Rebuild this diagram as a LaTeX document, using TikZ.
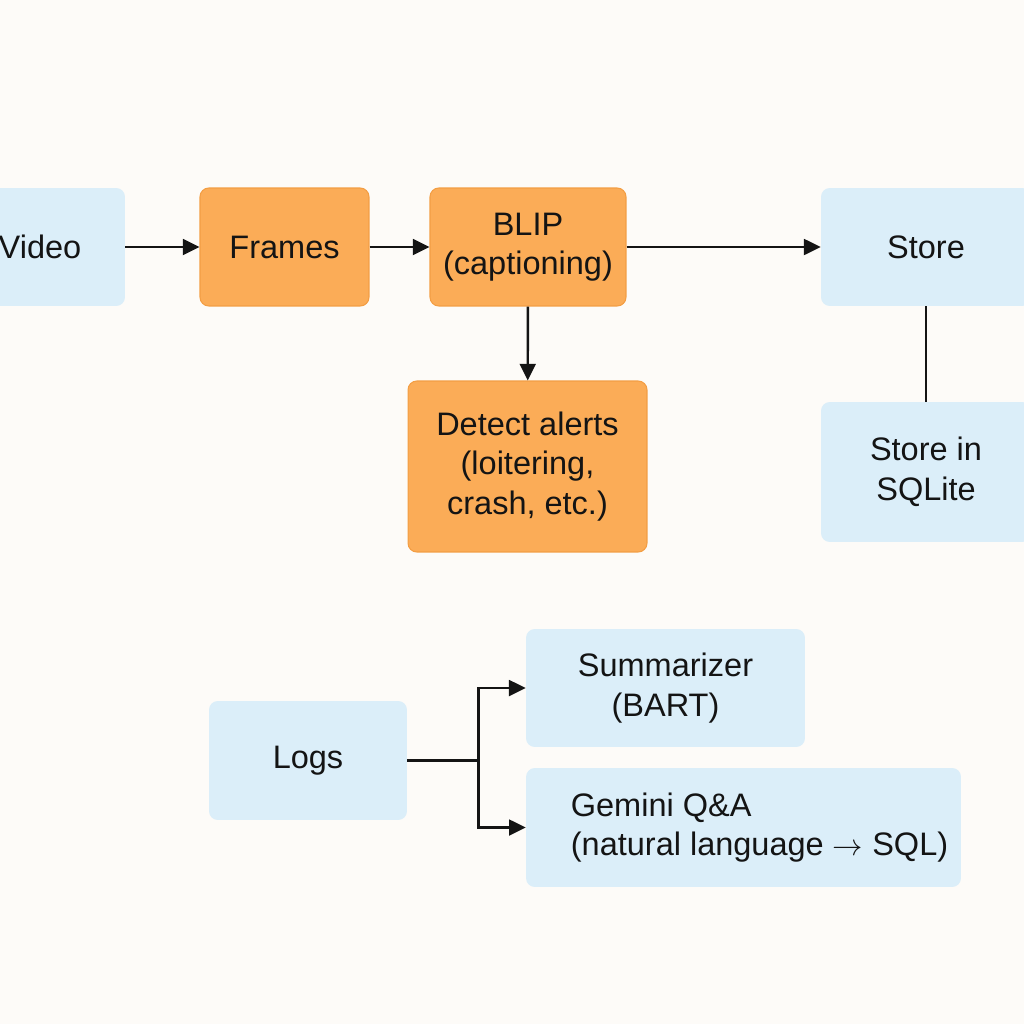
\documentclass[tikz,border=0pt]{standalone}
\usepackage{fontspec}
\setmainfont{Liberation Sans}
\usetikzlibrary{arrows.meta}
\definecolor{vsbg}{RGB}{253,251,248}
\definecolor{vsblue}{RGB}{219,238,249}
\definecolor{vsorange}{RGB}{251,172,87}
\definecolor{vsorline}{RGB}{243,158,68}
\definecolor{vsink}{RGB}{20,20,20}

\begin{document}
\begin{tikzpicture}[x=0.02cm, y=-0.02cm,
    box/.style={rectangle, rounded corners=5pt, inner sep=0pt, align=center,
                font=\fontsize{18.5}{22.5}\selectfont, text=vsink},
    bluebox/.style={box, fill=vsblue},
    orbox/.style={box, fill=vsorange, draw=vsorline, line width=0.6pt},
    arrow/.style={-{Triangle[length=9.5pt,width=9pt]}, line width=1.4pt, draw=vsink},
    link/.style={line width=1.4pt, draw=vsink}
  ]
    \fill[vsbg, use as bounding box] (0,0) rectangle (1024,1024);

    \node[bluebox, minimum width=3.4cm,  minimum height=2.36cm] (video)  at (40,247)      {Video};
    \node[orbox,   minimum width=3.38cm, minimum height=2.36cm] (frames) at (284.5,247)   {Frames};
    \node[orbox,   minimum width=3.92cm, minimum height=2.36cm] (blip)   at (528,247)     {BLIP\\(captioning)};
    \node[bluebox, minimum width=4.2cm,  minimum height=2.36cm] (store)  at (926,247)     {Store};
    \node[orbox,   minimum width=4.78cm, minimum height=3.42cm] (alerts) at (527.5,466.5) {Detect alerts\\(loitering,\\crash, etc.)};
    \node[bluebox, minimum width=4.2cm,  minimum height=2.8cm]  (sqlite) at (926,472)     {Store in\\SQLite};
    \node[bluebox, minimum width=3.96cm, minimum height=2.38cm] (logs)   at (308,760.5)   {Logs};
    \node[bluebox, minimum width=5.58cm, minimum height=2.36cm] (summ)   at (665.5,688)   {Summarizer\\(BART)};
    \node[bluebox, minimum width=8.7cm,  minimum height=2.38cm, align=left] (gemini) at (743.5,827.5)
      {\hspace*{0.64cm}Gemini Q\&A\\\hspace*{0.64cm}(natural language $\rightarrow$ SQL)};

    \draw[arrow] (video)  -- (frames);
    \draw[arrow] (frames) -- (blip);
    \draw[arrow] (blip)   -- (store);
    \draw[arrow] (blip)   -- (alerts);
    \draw[link]  (store)  -- (sqlite);

    % logs fan out to the two readers
    \draw[link]  (logs.east) -- ++(71,0) coordinate (fork);
    \draw[arrow] (fork) |- (summ.west);
    \draw[arrow] (fork) |- (gemini.west);
  \end{tikzpicture}
\end{document}
